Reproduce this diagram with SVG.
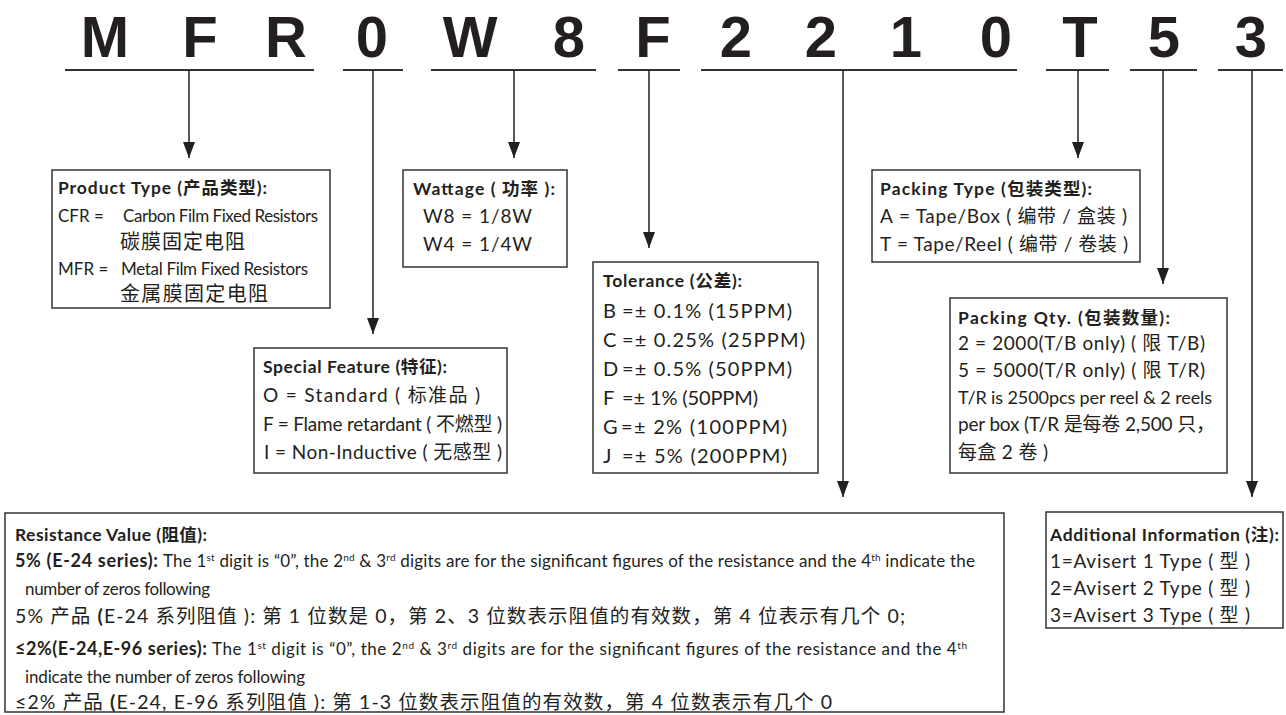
<svg xmlns="http://www.w3.org/2000/svg" width="1286" height="715" viewBox="0 0 1286 715">
<defs>
<style>
.box{fill:#fff;stroke:#333;stroke-width:1.5}
.t{font-family:Lato,'Noto Sans CJK SC',sans-serif;font-size:18px;fill:#231f20}
.h{font-weight:bold;font-size:17.5px}
.p{font-size:17px}
.c{font-size:20px}
.w{font-size:19px}
.tol{font-size:20px}
.r{font-size:17px}
.rc{font-size:19.5px}
.rb{font-weight:bold;font-size:18px}
.big{font-family:'Liberation Sans',Arial,sans-serif;font-weight:bold;font-size:58px;text-anchor:middle;fill:#231f20}
.ul{stroke:#333;stroke-width:2}
.conn{stroke:#231f20;stroke-width:1.5;fill:none;marker-end:url(#ah)}
.sup{font-size:10px}
</style>
<marker id="ah" markerUnits="userSpaceOnUse" markerWidth="16" markerHeight="12" refX="16" refY="6" orient="auto" viewBox="0 0 16 12">
<path d="M0,0 L16,6 L0,12 z" fill="#231f20"/>
</marker>
</defs>
<rect width="1286" height="715" fill="#fff"/>
<g id="code">
<text class="big" x="105" y="57">M</text>
<text class="big" x="200" y="57">F</text>
<text class="big" x="286" y="57">R</text>
<text class="big" x="372" y="57">0</text>
<text class="big" x="470" y="57">W</text>
<text class="big" x="569" y="57">8</text>
<text class="big" x="653" y="57">F</text>
<text class="big" x="736" y="57">2</text>
<text class="big" x="821" y="57">2</text>
<text class="big" x="906" y="57">1</text>
<text class="big" x="996" y="57">0</text>
<text class="big" x="1080" y="57">T</text>
<text class="big" x="1164" y="57">5</text>
<text class="big" x="1251" y="57">3</text>
</g>
<g id="connectors">
<line class="ul" x1="65" y1="70" x2="314" y2="70"/>
<line class="ul" x1="343" y1="70" x2="403" y2="70"/>
<line class="ul" x1="431" y1="70" x2="596" y2="70"/>
<line class="ul" x1="618" y1="70" x2="680" y2="70"/>
<line class="ul" x1="701" y1="70" x2="1017" y2="70"/>
<line class="ul" x1="1046" y1="70" x2="1109" y2="70"/>
<line class="ul" x1="1130" y1="70" x2="1197" y2="70"/>
<line class="ul" x1="1218" y1="70" x2="1283" y2="70"/>
<line class="conn" x1="189" y1="70" x2="189" y2="158"/>
<line class="conn" x1="373" y1="70" x2="373" y2="334"/>
<line class="conn" x1="514" y1="70" x2="514" y2="158"/>
<line class="conn" x1="649" y1="70" x2="649" y2="248"/>
<line class="conn" x1="843" y1="70" x2="843" y2="497"/>
<line class="conn" x1="1078" y1="70" x2="1078" y2="158"/>
<line class="conn" x1="1163" y1="70" x2="1163" y2="284"/>
<line class="conn" x1="1252" y1="70" x2="1252" y2="497"/>
</g>
<g id="product-type">
<rect class="box" x="52" y="170" width="278" height="138"/>
<text class="t h" x="58" y="194" textLength="209">Product Type (产品类型):</text>
<text class="t p" x="58" y="222">CFR =</text>
<text class="t p" x="123" y="222" textLength="195">Carbon Film Fixed Resistors</text>
<text class="t c" x="120" y="249" textLength="125">碳膜固定电阻</text>
<text class="t p" x="58" y="275">MFR =</text>
<text class="t p" x="121" y="275" textLength="187">Metal Film Fixed Resistors</text>
<text class="t c" x="120" y="301" textLength="148">金属膜固定电阻</text>
</g>
<g id="wattage">
<rect class="box" x="403" y="170" width="164" height="97"/>
<text class="t h" x="413" y="195" textLength="142">Wattage ( 功率 ):</text>
<text class="t w" x="423" y="223" textLength="109">W8 = 1/8W</text>
<text class="t w" x="423" y="251" textLength="109">W4 = 1/4W</text>
</g>
<g id="special-feature">
<rect class="box" x="254" y="348" width="253" height="125"/>
<text class="t h" x="263" y="373" textLength="184">Special Feature (特征):</text>
<text class="t w" x="263" y="402" textLength="217">O = Standard ( 标准品 )</text>
<text class="t w" x="263" y="431" textLength="239">F = Flame retardant ( 不燃型 )</text>
<text class="t w" x="264" y="459" textLength="238">I = Non-Inductive ( 无感型 )</text>
</g>
<g id="tolerance">
<rect class="box" x="593" y="262" width="225" height="211"/>
<text class="t h" x="603" y="287" textLength="139">Tolerance (公差):</text>
<text class="t tol" x="603" y="318">B</text><text class="t tol" x="622" y="318" textLength="170">=± 0.1% (15PPM)</text>
<text class="t tol" x="603" y="347">C</text><text class="t tol" x="622" y="347" textLength="183">=± 0.25% (25PPM)</text>
<text class="t tol" x="603" y="376">D</text><text class="t tol" x="622" y="376" textLength="170">=± 0.5% (50PPM)</text>
<text class="t tol" x="603" y="405">F</text><text class="t tol" x="622" y="405" textLength="136">=± 1% (50PPM)</text>
<text class="t tol" x="603" y="434">G</text><text class="t tol" x="621" y="434" textLength="166">=± 2% (100PPM)</text>
<text class="t tol" x="603" y="463">J</text><text class="t tol" x="622" y="463" textLength="165">=± 5% (200PPM)</text>
</g>
<g id="packing-type">
<rect class="box" x="872" y="170" width="268" height="92"/>
<text class="t h" x="880" y="195" textLength="212">Packing Type (包装类型):</text>
<text class="t w" x="880" y="223">A</text><text class="t w" x="899" y="223" textLength="228">= Tape/Box ( 编带 / 盒装 )</text>
<text class="t w" x="880" y="251">T</text><text class="t w" x="897" y="251" textLength="231">= Tape/Reel ( 编带 / 卷装 )</text>
</g>
<g id="packing-qty">
<rect class="box" x="950" y="298" width="277" height="175"/>
<text class="t h" x="958" y="324" textLength="212">Packing Qty. (包装数量):</text>
<text class="t w" x="958" y="350" textLength="247">2 = 2000(T/B only) ( 限 T/B)</text>
<text class="t w" x="958" y="377" textLength="247">5 = 5000(T/R only) ( 限 T/R)</text>
<text class="t" x="958" y="404" textLength="254">T/R is 2500pcs per reel &amp; 2 reels</text>
<text class="t w" x="958" y="431" textLength="257">per box (T/R 是每卷 2,500 只，</text>
<text class="t w" x="958" y="459" textLength="90">每盒 2 卷 )</text>
</g>
<g id="additional-info">
<rect class="box" x="1046" y="512" width="237" height="116"/>
<text class="t h" x="1050" y="541" textLength="229">Additional Information (注):</text>
<text class="t w" x="1050" y="568" textLength="200">1=Avisert 1 Type ( 型 )</text>
<text class="t w" x="1050" y="595" textLength="200">2=Avisert 2 Type ( 型 )</text>
<text class="t w" x="1050" y="622" textLength="200">3=Avisert 3 Type ( 型 )</text>
</g>
<g id="resistance-value">
<rect class="box" x="5" y="513" width="999" height="199"/>
<text class="t h" x="15" y="541" textLength="192">Resistance Value (阻值):</text>
<text class="t rb" x="15" y="567" textLength="143">5% (E-24 series):</text>
<text class="t r" x="163" y="567" textLength="812">The 1<tspan class="sup" dy="-6">st</tspan><tspan dy="6"> digit is “0”, the 2</tspan><tspan class="sup" dy="-6">nd</tspan><tspan dy="6">  &amp; 3</tspan><tspan class="sup" dy="-6">rd</tspan><tspan dy="6"> digits are for the significant figures of the resistance and the 4</tspan><tspan class="sup" dy="-6">th</tspan><tspan dy="6"> indicate the</tspan></text>
<text class="t r" x="25" y="595" textLength="185">number of zeros following</text>
<text class="t rc" x="15" y="623" textLength="890">5% 产品 <tspan font-weight="bold">(</tspan>E-24 系列阻值 ): 第 1 位数是 0，第 2、3 位数表示阻值的有效数，第 4 位表示有几个 0;</text>
<text class="t rb" x="15" y="655" textLength="192">≤2%(E-24,E-96 series):</text>
<text class="t r" x="212" y="655" textLength="755">The 1<tspan class="sup" dy="-6">st</tspan><tspan dy="6"> digit is “0”, the 2</tspan><tspan class="sup" dy="-6">nd</tspan><tspan dy="6"> &amp; 3</tspan><tspan class="sup" dy="-6">rd</tspan><tspan dy="6"> digits are for the significant figures of the resistance and the 4</tspan><tspan class="sup" dy="-6">th</tspan></text>
<text class="t r" x="25" y="683" textLength="280">indicate the number of zeros following</text>
<text class="t rc" x="15" y="709" textLength="817">≤2% 产品 <tspan font-weight="bold">(</tspan>E-24, E-96 系列阻值 ): 第 1-3 位数表示阻值的有效数，第 4 位数表示有几个 0</text>
</g>
</svg>
